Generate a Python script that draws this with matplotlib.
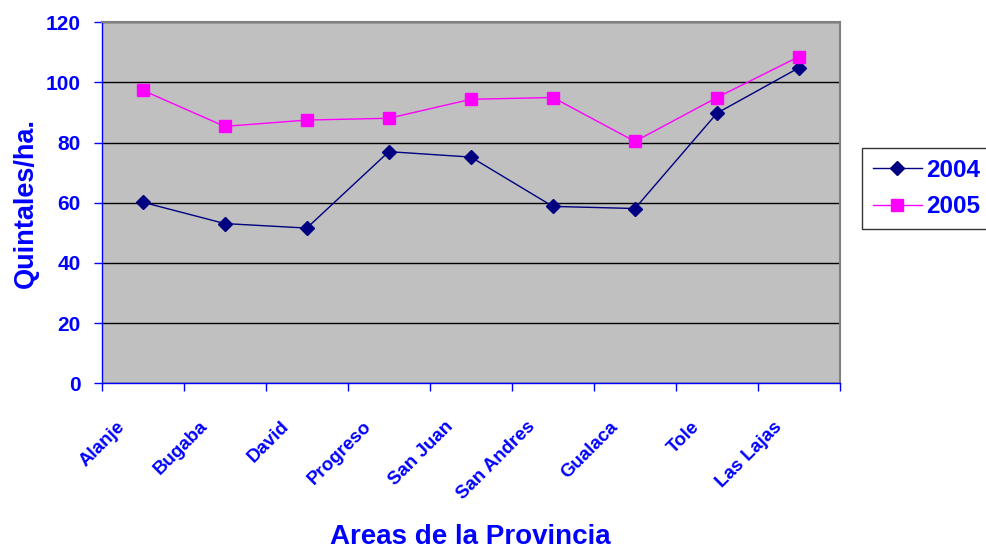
import matplotlib
matplotlib.use('Agg')
import matplotlib.pyplot as plt
import matplotlib.transforms as mtransforms
import numpy as np

areas = ['Alanje', 'Bugaba', 'David', 'Progreso', 'San Juan',
         'San Andres', 'Gualaca', 'Tole', 'Las Lajas']
y2004 = [60.2, 53.1, 51.6, 77.0, 75.2, 58.8, 58.1, 89.8, 104.9]
y2005 = [97.4, 85.4, 87.5, 88.1, 94.4, 95.0, 80.4, 95.0, 108.6]
yticks = [0, 20, 40, 60, 80, 100, 120]

BLUE = '#0000FF'
plt.rcParams['font.family'] = ['Liberation Sans', 'DejaVu Sans']
plt.rcParams['font.weight'] = 'bold'

fig = plt.figure(figsize=(9.86, 5.49), dpi=100)
ax = fig.add_axes([0.1031, 0.3018, 0.852 - 0.1031, 0.9594 - 0.3018])
ax.set_facecolor('#C0C0C0')

x = np.arange(1, len(areas) + 1)
ax.plot(x, y2004, color='#000080', lw=1.0, marker='D', ms=7,
        mfc='#000080', mec='#000080', label='2004', zorder=3)
ax.plot(x, y2005, color='#FF00FF', lw=1.0, marker='s', ms=8,
        mfc='#FF00FF', mec='#FF00FF', label='2005', zorder=3)

ax.set_xlim(0.5, len(areas) + 0.5)
ax.set_ylim(0, 120)
ax.set_yticks(yticks)
ax.yaxis.grid(True, color='black', lw=1.0)
ax.set_axisbelow(True)

# category ticks between points, labels centred on points
ax.set_xticks(np.arange(0.5, len(areas) + 1, 1.0), minor=True)
ax.set_xticks(x)
ax.set_xticklabels(areas, rotation=45, ha='right', va='top')
ax.tick_params(axis='x', which='major', length=0, pad=25,
               labelsize=13.5, labelcolor=BLUE)
ax.tick_params(axis='x', which='minor', length=6, width=1, color=BLUE,
               direction='out')
ax.tick_params(axis='y', length=6, width=1, color=BLUE, pad=9,
               labelsize=15, labelcolor=BLUE)
offset = mtransforms.ScaledTranslation(-14 / 100, 0, fig.dpi_scale_trans)
for lab in ax.get_xticklabels():
    lab.set_transform(lab.get_transform() + offset)

for s in ['top', 'right']:
    ax.spines[s].set_color('#808080')
    ax.spines[s].set_linewidth(1.5)
for s in ['left', 'bottom']:
    ax.spines[s].set_color(BLUE)
    ax.spines[s].set_linewidth(1.0)

ax.set_ylabel('Quintales/ha.', color=BLUE, fontsize=19.5, fontweight='bold',
              labelpad=5)
fig.text(0.4767, 1 - 537 / 549, 'Areas de la Provincia', color=BLUE,
         fontsize=20, fontweight='bold', ha='center', va='center')

leg = fig.legend(loc='upper left', bbox_to_anchor=(862 / 986, 1 - 148 / 549),
                 borderaxespad=0, fancybox=False, frameon=True,
                 prop={'size': 17.5, 'weight': 'bold'}, handlelength=2.0,
                 handletextpad=0.2, borderpad=0.45, labelspacing=0.55)
leg.get_frame().set_edgecolor('black')
leg.get_frame().set_linewidth(1.0)
for t in leg.get_texts():
    t.set_color(BLUE)

fig.savefig('out.png', dpi=100)
